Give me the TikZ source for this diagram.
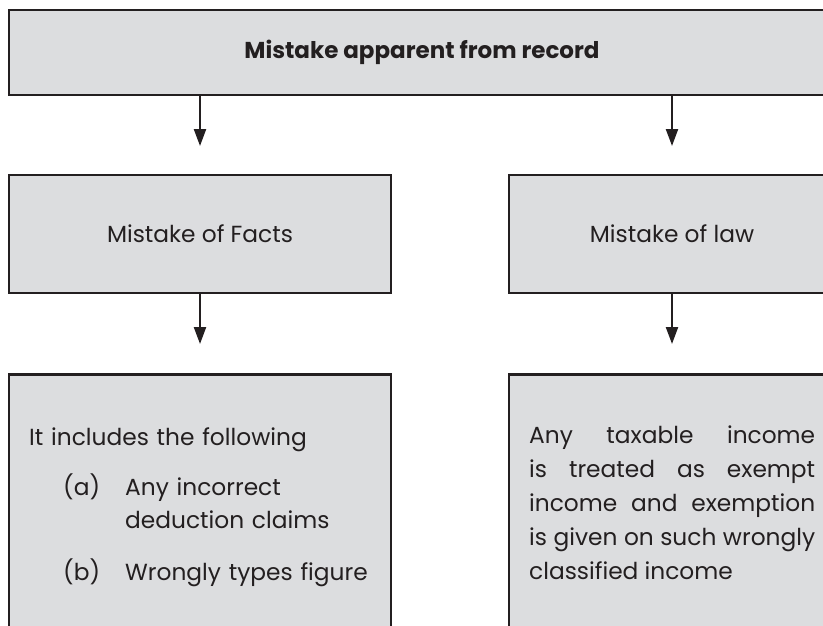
\documentclass[tikz,border=0pt]{standalone}
\usepackage{fontspec}
\setmainfont{Poppins}
\usetikzlibrary{arrows.meta}
\definecolor{boxfill}{HTML}{DCDDDF}
\definecolor{ink}{HTML}{231F20}
\begin{document}
\begin{tikzpicture}[x=1pt,y=-1pt,
  box/.style={draw=ink, fill=boxfill, line width=2.5pt, rectangle, inner sep=0pt},
  arr/.style={draw=ink, line width=2.2pt, -{Triangle[width=12pt,length=17pt]}},
  txt/.style={text=ink, font=\fontsize{23.3}{33}\selectfont, inner sep=0pt}]
\useasboundingbox (0,0) rectangle (823,625);
\begin{scope}
\clip (0,0) rectangle (823,625);
\node[box, minimum width=826pt, minimum height=85pt] (top) at (422,52.5) {};
\node[box, minimum width=382pt, minimum height=118pt] (facts) at (200,234) {};
\node[box, minimum width=326pt, minimum height=118pt] (law) at (672,234) {};
\node[box, minimum width=382pt, minimum height=320pt, anchor=north] (lbot) at (200,373) {};
\node[box, minimum width=326pt, minimum height=320pt, anchor=north] (rbot) at (672,373) {};
\end{scope}
\node[txt, font=\fontsize{23}{33}\selectfont\bfseries] (toptxt) at (top.center) {Mistake apparent from record};
\node[txt] (factstxt) at (facts.center) {Mistake of Facts};
\node[txt] (lawtxt) at (law.center) {Mistake of law};
\coordinate (t1) at (200,146);
\coordinate (t2) at (672,146);
\coordinate (t3) at (200,344);
\coordinate (t4) at (672,344);
\draw[arr] (top.south -| t1) -- (t1);
\draw[arr] (top.south -| t2) -- (t2);
\draw[arr] (facts.south -| t3) -- (t3);
\draw[arr] (law.south -| t4) -- (t4);
\node[txt, anchor=base west, text width=340pt, align=left] (ltxt) at (29,445)
  {It includes the following\\[17pt]
   \hspace*{34pt}\makebox[62pt][l]{(a)}Any incorrect\\
   \hspace*{96pt}deduction claims\\[19pt]
   \hspace*{34pt}\makebox[62pt][l]{(b)}Wrongly types figure};
\node[txt, font=\fontsize{23.3}{34}\selectfont, anchor=base west, text width=286pt, align=justify] (rtxt) at (529,443)
  {Any taxable income\linebreak is treated as exempt\linebreak income and exemption\linebreak is given on such wrongly\linebreak classified income};
\end{tikzpicture}
\end{document}
